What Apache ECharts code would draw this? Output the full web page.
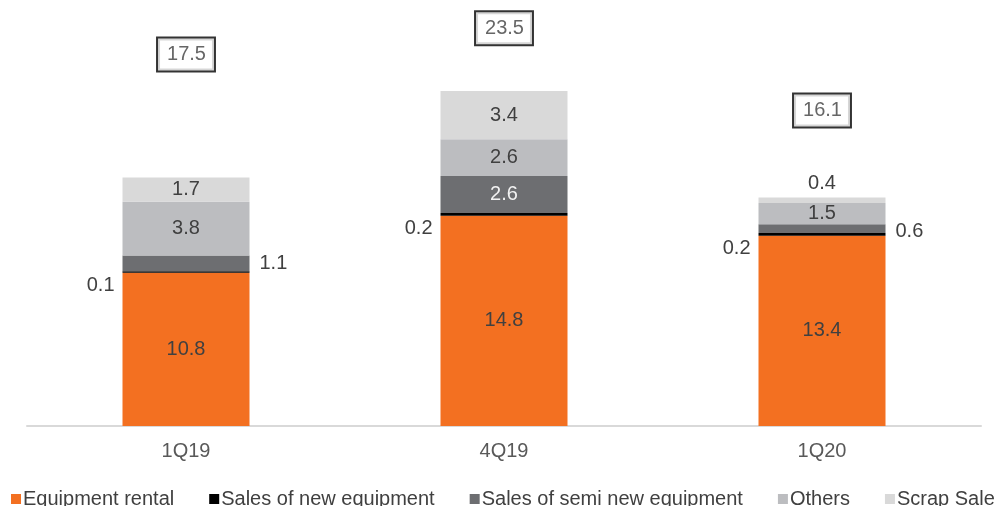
<!DOCTYPE html>
<html>
<head>
<meta charset="utf-8">
<script src="https://cdn.jsdelivr.net/npm/echarts@6/dist/echarts.min.js"></script>
<style>
  html, body { margin: 0; padding: 0; background: #fff; }
  #main { width: 1002px; height: 506px; }
</style>
</head>
<body>
<div id="main"></div>
<script>
// data
var categories = ['1Q19', '4Q19', '1Q20'];
var rental = [10.8, 14.8, 13.4];
var newEquip = [0.1, 0.2, 0.2];
var semiNew = [1.1, 2.6, 0.6];
var others = [3.8, 2.6, 1.5];
var scrap = [1.7, 3.4, 0.4];
var totals = [17.5, 23.5, 16.1];

// layout of labels
var semiNewPos = ['right', 'inside', 'right'];
var scrapPos = ['inside', 'inside', 'top'];
var totalOffsets = [-123, -64, -87];

var font = 'Liberation Sans, Arial, sans-serif';
var txt = '#404040';

var myChart = echarts.init(document.getElementById('main'));

function seg(name, values, color, labelFn) {
    return {
        name: name,
        type: 'bar',
        stack: 'total',
        barWidth: 127,
        itemStyle: { color: color },
        data: values.map(function(v, i) {
            return { value: v, label: labelFn(i) };
        })
    };
}

function lbl(pos, extra) {
    var o = { show: true, position: pos, fontSize: 20, fontFamily: font, color: txt };
    for (var k in extra) o[k] = extra[k];
    return o;
}

var option = {
    animation: false,
    grid: { left: 27, right: 21, top: 0, bottom: 80 },
    legend: {
        data: ['Equipment rental', 'Sales of new equipment', 'Sales of semi new equipment', 'Others', 'Scrap Sale'],
        left: 6,
        top: 484,
        icon: 'rect',
        itemWidth: 10,
        itemHeight: 10,
        itemGap: 35,
        textStyle: { fontSize: 20, fontFamily: font, color: txt, padding: [0, 0, 0, -3] }
    },
    xAxis: {
        type: 'category',
        data: categories,
        axisTick: { show: false },
        axisLine: { lineStyle: { color: '#D9D9D9', width: 2 } },
        axisLabel: { fontSize: 20, fontFamily: font, color: '#595959', margin: 15 }
    },
    yAxis: {
        type: 'value',
        min: 0,
        max: 30,
        show: false,
        splitLine: { show: false }
    },
    series: [
        seg('Equipment rental', rental, '#F37021', function(i) {
            return lbl('inside');
        }),
        seg('Sales of new equipment', newEquip, '#000000', function(i) {
            return lbl('left', { distance: 8, offset: [0, 14] });
        }),
        seg('Sales of semi new equipment', semiNew, '#6D6E71', function(i) {
            return semiNewPos[i] === 'inside'
                ? lbl('inside', { color: '#F2F2F2' })
                : lbl(semiNewPos[i], { distance: 10, offset: [0, i === 2 ? 3 : 0] });
        }),
        seg('Others', others, '#BCBDC0', function(i) {
            return lbl('inside');
        }),
        seg('Scrap Sale', scrap, '#D9D9D9', function(i) {
            return lbl(scrapPos[i], { distance: 4 });
        }),
        {
            name: 'Total',
            type: 'scatter',
            symbolSize: 1,
            silent: true,
            itemStyle: { color: 'rgba(0,0,0,0)' },
            data: totals.map(function(v, i) {
                return {
                    value: v,
                    label: {
                        show: true,
                        position: 'inside',
                        offset: [0, totalOffsets[i]],
                        fontSize: 20,
                        fontFamily: font,
                        color: txt,
                        backgroundColor: '#fff',
                        borderColor: '#000',
                        borderWidth: 2,
                        padding: [6, 8, 6, 9],
                        formatter: function(p) { return p.value.toFixed(1); }
                    }
                };
            })
        }
    ]
};

myChart.setOption(option);
</script>
</body>
</html>
